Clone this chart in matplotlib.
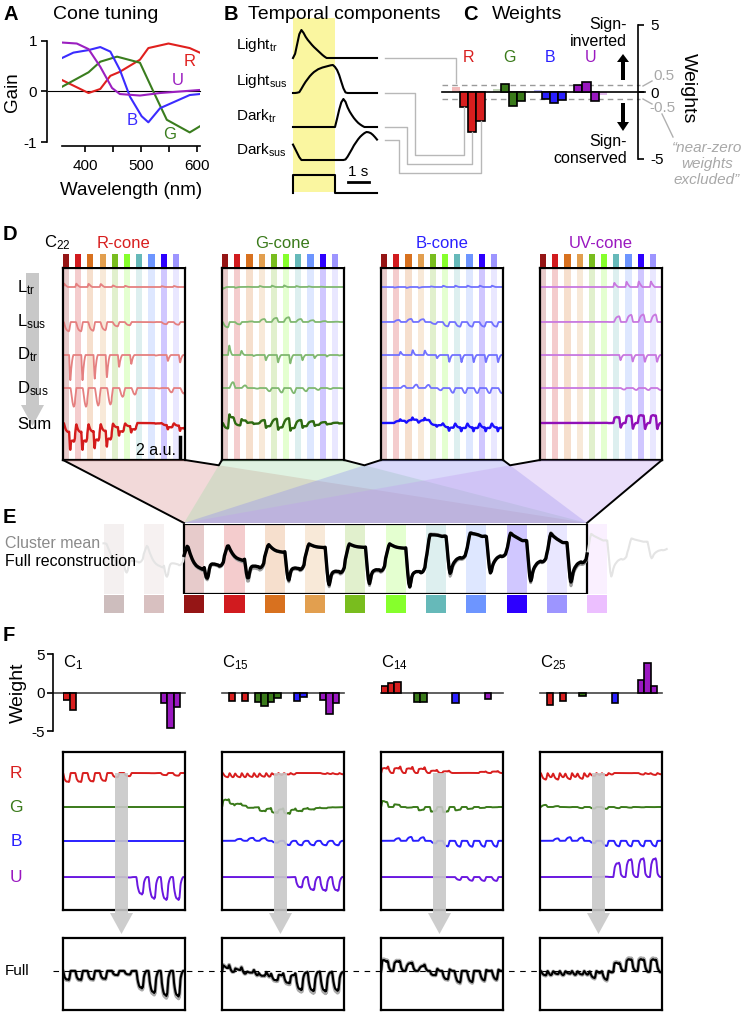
import numpy as np
import matplotlib.pyplot as plt
from matplotlib.patches import Rectangle, Polygon

plt.rcParams['font.family'] = ['Liberation Sans', 'DejaVu Sans']
plt.rcParams['mathtext.fontset'] = 'custom'
plt.rcParams['mathtext.rm'] = 'Liberation Sans'
plt.rcParams['mathtext.it'] = 'Liberation Sans:italic'
plt.rcParams['axes.unicode_minus'] = False

W, H = 744, 1013

# ---------------- data ----------------
# panel A: cone tuning curves (wavelength nm, gain)
wl_R = [358, 406, 427, 445, 462, 498, 513, 549, 587, 605]
tune_R = [0.23, -0.03, 0.05, 0.31, 0.39, 0.63, 0.86, 0.95, 0.86, 0.77]
wl_G = [358, 406, 427, 457, 498, 522, 546, 587, 605]
tune_G = [0.09, 0.38, 0.59, 0.69, 0.57, 0.0, -0.56, -0.81, -0.69]
wl_B = [358, 379, 406, 427, 445, 462, 480, 501, 513, 534, 587, 605]
tune_B = [0.66, 0.77, 0.82, 0.88, 0.79, 0.43, -0.10, -0.49, -0.61, -0.33, -0.07, -0.05]
wl_U = [358, 385, 406, 427, 448, 462, 498, 534, 605]
tune_U = [0.97, 0.95, 0.84, 0.49, 0.07, -0.05, -0.08, -0.03, 0.03]

# panel B: temporal kernels, sampled every 0.1 s over one 4 s cycle (flash 0-2 s)
k_time = np.arange(41) * 0.1
light_tr = [0, .15, .5, .85, 1.0, .9, .76, .65, .56, .47, .39, .32, .25, .18, .11, .05,
            0, 0, 0, 0, 0, 0, 0, 0, 0, 0, 0, 0, 0, 0, 0, 0, 0, 0, 0, 0, 0, 0, 0, 0, 0]
light_sus = [0, 0, .01, .03, .15, .28, .4, .5, .6, .68, .75, .8, .85, .88, .91, .93, .95,
             .97, .99, 1.0, .93, .82, .64, .4, .17, .02, 0, 0, 0, 0, 0, 0, 0, 0, 0, 0, 0,
             0, 0, 0, 0]
dark_tr = [0, 0, 0, 0, 0, 0, 0, 0, 0, 0, 0, 0, 0, 0, 0, 0, 0, 0, 0, 0, 0, .3, .62, .88,
           1.0, .9, .7, .55, .43, .32, .23, .15, .09, .04, 0, 0, 0, 0, 0, 0, 0]
dark_sus = [.55, .4, .25, .1, 0, 0, 0, 0, 0, 0, 0, 0, 0, 0, 0, 0, 0, 0, 0, 0, 0, 0, 0, 0,
            0, .02, .12, .25, .38, .52, .63, .74, .83, .9, .96, 1.0, .99, .96, .9, .82, .73]
stim_t = [0, 0, 2, 2, 4]
stim_v = [0, 1, 1, 0, 0]
kernels = [light_tr, light_sus, dark_tr, dark_sus]
kernel_tail = [0, 0, 0, 4]   # dark_sus start belongs to the previous flash

# LEDs (13 used in E; D uses index 2..11) + one trailing cycle
led_colors = ['#cdbdbd', '#d8c0c0', '#951515', '#d11b1f', '#d8711f', '#e29f4f', '#79bd1e',
              '#86ff2c', '#66b9b9', '#6d95ff', '#2d00ff', '#9d95ff', '#ecbfff']
led_R = [0.70, 0.80, 0.85, 0.85, 0.80, 0.75, 0.40, 0.30, 0.00, 0.02, 0.20, 0.25, 0.22, 0.10]
led_G = [-0.70, -0.80, -0.90, -0.40, 0.10, 0.50, 0.70, 0.80, 0.50, 0.30, 0.15, 0.05, 0.09, 0.0]
led_B = [0.0, 0.0, 0.0, -0.40, -0.60, -0.55, 0.40, 0.85, 0.90, 0.90, 0.90, 0.90, 0.66, 0.30]
led_U = [0.0, 0.0, 0.0, 0.0, 0.0, 0.0, 0.0, 0.02, 0.80, 1.00, 1.05, 1.05, 0.97, 0.50]
led_gain = [led_R, led_G, led_B, led_U]

# panel C: C22 weights (Ltr, Lsus, Dtr, Dsus) per cone
w22_R = [0.40, -1.10, -2.96, -2.20]
w22_G = [0.20, 0.60, -1.05, -0.65]
w22_B = [0.15, -0.52, -0.80, -0.57]
w22_U = [0.52, 0.72, -0.65, -0.20]
w22 = [w22_R, w22_G, w22_B, w22_U]
mean_ratio_E = [1.0, 1.0, 1.05, 1.1, 1.05, 1.05, 1.05, 1.0, 1.1, 0.95, 1.05, 1.1, 1.0, 1.0]

# panel F: cluster weights (cone x component)
clusters = ['C$_{1}$', 'C$_{15}$', 'C$_{14}$', 'C$_{25}$']
wF_C1 = [[-0.96, -2.26, 0, 0], [0, 0, 0, 0], [0, 0, 0, 0], [-1.4, -4.65, -1.9, 0]]
wF_C15 = [[0, -1.05, 0, -1.05], [-1.2, -1.7, -1.2, -0.75], [0, -1.05, -0.6, 0], [-0.95, -2.8, -1.4, 0]]
wF_C14 = [[0.9, 1.2, 1.3, 0], [-1.2, -1.2, 0, 0], [0, -1.4, 0, 0], [0, -0.8, 0, 0]]
wF_C25 = [[0, -1.65, 0, -1.05], [0, -0.5, 0, 0], [0, -1.3, 0, 0], [1.65, 3.8, 0.9, 0]]
wF = [wF_C1, wF_C15, wF_C14, wF_C25]
mean_ratio_F = [1.08, 1.1, 1.08, 1.1]

cone_names = ['R', 'G', 'B', 'U']
cone_col = ['#d81e1e', '#3a7a1a', '#2a20ff', '#9a18c0']
cone_light = ['#e58080', '#80b870', '#7272ff', '#c878e0']
cone_sum = ['#d41c1c', '#2f6a12', '#1a10ff', '#9010b8']
f_col = ['#d81e1e', '#3a7a1a', '#2a20ff', '#6a18e0']

CYCLE = 40
DT = 0.1


def component_trace(gains, kernel, tail):
    segs = []
    prev = 0.0
    for g in gains:
        seg = np.array(kernel[:CYCLE]) * g
        if tail:
            seg[:tail] = np.array(kernel[:tail]) * prev
        segs.append(seg)
        prev = g
    return np.concatenate(segs)


def cone_trace(weights, gains):
    out = 0
    for w, k, tl in zip(weights, kernels, kernel_tail):
        out = out + w * component_trace(gains, k, tl)
    return out


def included(ws):
    return [w if abs(w) >= 0.5 else 0.0 for w in ws]


fig = plt.figure(figsize=(W / 100, H / 100), dpi=100)


def px_axes(x0, y0, x1, y1):
    return fig.add_axes([x0 / W, 1 - y1 / H, (x1 - x0) / W, (y1 - y0) / H])


def clean(ax):
    ax.set_xticks([])
    ax.set_yticks([])
    for s in ax.spines.values():
        s.set_visible(False)


# ---------------- A: cone tuning ----------------
axA = px_axes(61.7, 41, 200, 142)
axA.axhline(0, color='black', lw=0.8, xmin=-0.1, clip_on=False)
for wl, tu, c in zip([wl_R, wl_G, wl_B, wl_U], [tune_R, tune_G, tune_B, tune_U],
                     ['#e0201e', '#3a7d1e', '#3b2cff', '#9b1fc0']):
    axA.plot(wl, tu, color=c, lw=1.5)
axA.set_xlim(358, 605.4)
axA.set_ylim(-1, 1)
axA.spines['top'].set_visible(False)
axA.spines['right'].set_visible(False)
axA.spines['left'].set_position(('outward', 10.6))
axA.spines['left'].set_bounds(-1, 1)
axA.spines['bottom'].set_position(('outward', 3))
axA.set_yticks([-1, 0, 1])
axA.set_xticks([400, 450, 500, 550, 600])
axA.set_xticklabels(['400', '', '500', '', '600'])
axA.tick_params(labelsize=11, length=4, width=1.2, pad=3)
axA.tick_params(axis='x', pad=5)
for s in axA.spines.values():
    s.set_linewidth(1.2)

# ---------------- B: temporal components ----------------
axB = px_axes(280, 18, 400, 196)
clean(axB)
axB.set_xlim(-13 / 21, 107 / 21)
axB.set_ylim(196, 18)
axB.axvspan(0, 2, ymin=0.02, ymax=1, color='#faf6a0', lw=0)
row_base = [58, 93, 127, 160]
for k, base in zip(kernels, row_base):
    axB.plot(k_time, base - np.array(k) * 28, color='black', lw=1.5)
axB.plot(stim_t, 193 - np.array(stim_v) * 18, color='black', lw=1.5)
axB.plot([2.6, 3.6], [182, 182], color='black', lw=2)
axB.text(3.1, 179, '1 s', ha='center', va='bottom', fontsize=11)

# ---------------- C: weights ----------------
C_X0, C_SLOT, C_ZERO, C_UNIT = 452, 8.15, 92, 13.4
axC = px_axes(440, 25, 638, 159)
axC.set_xlim((440 - C_X0) / C_SLOT, (638 - C_X0) / C_SLOT)
axC.set_ylim(-5, 5)
for s in ['top', 'left', 'bottom']:
    axC.spines[s].set_visible(False)
axC.spines['right'].set_bounds(-5, 5)
axC.spines['right'].set_linewidth(1.2)
axC.yaxis.tick_right()
axC.set_yticks([-5, 0, 5])
axC.set_xticks([])
axC.tick_params(labelsize=11, length=4, width=1.2, pad=5)
xa, xb = (442 - C_X0) / C_SLOT, (645 - C_X0) / C_SLOT
axC.plot([xa, (640 - C_X0) / C_SLOT], [0.5, 0.5], color='#9a9a9a', lw=1, dashes=(4, 3), clip_on=False)
axC.plot([xa, (640 - C_X0) / C_SLOT], [-0.5, -0.5], color='#9a9a9a', lw=1, dashes=(4, 3), clip_on=False)
for g, ws in enumerate(w22):
    for c, w in enumerate(ws):
        x = g * 5 + c
        if abs(w) < 0.5:
            axC.bar(x, w, width=1, align='edge', color=cone_col[g], alpha=0.3, lw=0)
        else:
            axC.bar(x, w, width=1, align='edge', color=cone_col[g], edgecolor='black', lw=1.2, zorder=3)
axC.plot([xa, xb], [0, 0], color='black', lw=1.2, clip_on=False, zorder=2)
for g, n in enumerate(cone_names):
    axC.text(g * 5 + 2, 2.0, n, ha='center', va='bottom', color=cone_col[g], fontsize=11.5)

# ---------------- D: cone contributions ----------------
box_left = [63, 222, 381, 540]
BOX_W = 122
d_base = [-1.9, -5.4, -8.7, -12.0, -15.5]
tD = np.arange(10 * CYCLE) * DT
for ci in range(4):
    L = box_left[ci]
    ax = px_axes(L, 268, L + BOX_W, 460)
    ax.set_xticks([])
    ax.set_yticks([])
    for s in ax.spines.values():
        s.set_linewidth(1.6)
    ax.set_xlim(0, 40)
    ax.set_ylim(-19.2, 0)
    gains = led_gain[ci][2:12]
    for i in range(10):
        ax.axvspan(4 * i, 4 * i + 2, color=led_colors[i + 2], alpha=0.22, lw=0)
    for k in range(4):
        comp = component_trace(gains, kernels[k], kernel_tail[k])
        ax.plot(tD, d_base[k] + w22[ci][k] * comp, color=cone_light[ci], lw=1.3)
    ax.plot(tD, d_base[4] + cone_trace(included(w22[ci]), gains), color=cone_sum[ci], lw=1.7)
    if ci == 0:
        ax.plot([38.4, 38.4], [-16.9, -18.9], color='black', lw=2.5)
        ax.text(37.2, -18.2, '2 a.u.', ha='right', va='center', fontsize=11.5)
    sq = px_axes(L, 254, L + BOX_W, 267)
    clean(sq)
    sq.set_xlim(0, 40)
    for i in range(10):
        sq.axvspan(4 * i, 4 * i + 2, color=led_colors[i + 2], lw=0)

# ---------------- E: full reconstruction ----------------
E_X0, E_PXS = 103.5, 40.3 / 4
axE = px_axes(90, 524, 680, 594)
clean(axE)
axE.set_xlim((90 - E_X0) / E_PXS, (680 - E_X0) / E_PXS)
tE = np.arange(14 * CYCLE) * DT
fullE = sum(cone_trace(included(w22[ci]), led_gain[ci]) for ci in range(4))
meanE = fullE * np.repeat(mean_ratio_E, CYCLE)
inside = (tE >= 8) & (tE <= 48)
lo, hi = fullE[inside].min(), fullE[inside].max()
sc = 54 / (hi - lo)
axE.set_ylim(lo - 7 / sc, hi + 9 / sc)
for i in range(13):
    axE.axvspan(4 * i, 4 * i + 2, color=led_colors[i], alpha=0.22, lw=0)
axE.plot(tE, meanE, color='#e4e4e4', lw=1.5)
axE.plot(tE[inside], meanE[inside], color='#9c9c9c', lw=2)
axE.plot(tE[inside], fullE[inside], color='black', lw=2.4)
axE.add_patch(Rectangle((8, lo - 7 / sc), 40, (hi - lo) + 16 / sc, fill=False, ec='black', lw=1.6))
sqE = px_axes(90, 595, 680, 613)
clean(sqE)
sqE.set_xlim(axE.get_xlim())
for i in range(13):
    sqE.axvspan(4 * i, 4 * i + 2, color=led_colors[i], lw=0)

# ---------------- F: example clusters ----------------
F_SLOT = 6.5
F_SC = 4.7
f_base = [-4.47, -11.7, -18.9, -26.6]
for j in range(4):
    L = box_left[j]
    axw = px_axes(L, 654, L + BOX_W, 731)
    axw.set_xlim(0, BOX_W / F_SLOT)
    axw.set_ylim(-5, 5)
    for s in ['top', 'right', 'bottom', 'left']:
        axw.spines[s].set_visible(False)
    axw.set_xticks([])
    x_start = 0
    if j == 0:
        axw.spines['left'].set_visible(True)
        axw.spines['left'].set_position(('outward', 7.2))
        axw.spines['left'].set_bounds(-5, 5)
        axw.spines['left'].set_linewidth(1.2)
        axw.set_yticks([-5, 0, 5])
        axw.tick_params(labelsize=11, length=4, width=1.2, pad=2)
        x_start = -10 / F_SLOT
    else:
        axw.set_yticks([])
    axw.plot([x_start, BOX_W / F_SLOT], [0, 0], color='#444444', lw=1.2, clip_on=False)
    for g in range(4):
        for c in range(4):
            w = wF[j][g][c]
            if w != 0:
                axw.bar(g * 5 + c, w, width=1, align='edge', color=cone_col[g],
                        edgecolor='black', lw=1.2, zorder=3)

    gains_all = [lg[2:12] for lg in led_gain]
    axu = px_axes(L, 752, L + BOX_W, 910)
    axu.set_xticks([])
    axu.set_yticks([])
    for s in axu.spines.values():
        s.set_linewidth(1.6)
    axu.set_xlim(0, 40)
    axu.set_ylim(-158 / F_SC, 0)
    total = 0
    for g in range(4):
        tr = cone_trace(wF[j][g], gains_all[g])
        total = total + tr
        axu.plot(tD, f_base[g] + tr, color=f_col[g], lw=1.4)

    axl = px_axes(L, 938, L + BOX_W, 1010)
    axl.set_xticks([])
    axl.set_yticks([])
    for s in axl.spines.values():
        s.set_linewidth(1.6)
    axl.set_xlim(0, 40)
    axl.set_ylim(-72 / F_SC, 0)
    axl.plot(tD, -7.0 + total * mean_ratio_F[j], color='#aaaaaa', lw=2.6)
    axl.plot(tD, -7.0 + total, color='black', lw=1.5)

# ---------------- overlay: labels, arrows, connectors ----------------
ov = fig.add_axes([0, 0, 1, 1], zorder=10)
ov.set_xlim(0, W)
ov.set_ylim(H, 0)
ov.axis('off')
ov.patch.set_alpha(0)

bold = dict(fontsize=14.5, fontweight='bold', va='center', ha='left')
for lab, x, y in [('A', 3, 14), ('B', 224, 14), ('C', 463, 14), ('D', 3, 234), ('E', 3, 517), ('F', 3, 635)]:
    ov.text(x, y, lab, **bold)
ov.text(53, 14, 'Cone tuning', fontsize=14, va='center')
ov.text(248, 14, 'Temporal components', fontsize=14, va='center')
ov.text(492, 14, 'Weights', fontsize=14, va='center')

# A labels
ov.text(12, 92, 'Gain', rotation=90, fontsize=13.5, ha='center', va='center')
ov.text(131, 190, 'Wavelength (nm)', fontsize=13.5, ha='center', va='center')
for n, x, y, c in [('R', 190, 61, '#e0201e'), ('U', 178, 80, '#9b1fc0'),
                   ('B', 132, 120, '#3b2cff'), ('G', 170, 134, '#3a7d1e')]:
    ov.text(x, y, n, color=c, fontsize=12, ha='center', va='center')

# B labels
for lab, y in [(r'Light$_{\mathrm{tr}}$', 45), (r'Light$_{\mathrm{sus}}$', 81),
               (r'Dark$_{\mathrm{tr}}$', 116), (r'Dark$_{\mathrm{sus}}$', 150)]:
    ov.text(236, y, lab, fontsize=11, va='center', ha='left')

# connectors B -> C
gray_c = '#b8b8b8'
ends = [58 - light_tr[-1] * 28, 93 - light_sus[-1] * 28, 127 - dark_tr[-1] * 28, 160 - dark_sus[-1] * 28]
bar_x = [C_X0 + (c + 0.5) * C_SLOT for c in range(4)]
bar_end = [C_ZERO - w22_R[0] * C_UNIT - 4] + [C_ZERO - w * C_UNIT for w in w22_R[1:]]
ov.plot([385, bar_x[0], bar_x[0]], [ends[0], ends[0], bar_end[0]], color=gray_c, lw=1)
for c, (xt, yl) in zip([1, 2, 3], [(415, 155), (407, 164), (399, 173)]):
    ov.plot([385, xt, xt, bar_x[c], bar_x[c]], [ends[c], ends[c], yl, yl, bar_end[c]], color=gray_c, lw=1)

# C annotations
for ys, ye, yh in [(80, 62, 54), (103, 122, 131)]:
    ov.add_patch(Polygon([(621, ys), (625, ys), (625, ye), (629, ye), (623, yh), (617, ye), (621, ye)],
                         closed=True, color='black', lw=0))
ov.text(627, 33, 'Sign-\ninverted', ha='right', va='center', fontsize=11.5, multialignment='right', linespacing=1.1)
ov.text(627, 150, 'Sign-\nconserved', ha='right', va='center', fontsize=11.5, multialignment='right', linespacing=1.1)
ov.text(688, 88, 'Weights', rotation=270, fontsize=14, ha='center', va='center')
ov.text(653, 76, '0.5', color='#a8a8a8', fontsize=11, va='center')
ov.text(649, 108, '-0.5', color='#a8a8a8', fontsize=11, va='center')
ov.plot([643, 652], [86, 81], color='#b0b0b0', lw=1)
ov.plot([643, 652], [99, 104], color='#b0b0b0', lw=1)
ov.plot([662, 673], [114, 137], color='#b0b0b0', lw=1)
ov.text(707, 164, '\u201cnear-zero\nweights\nexcluded\u201d', color='#a8a8a8', fontsize=11,
        style='italic', ha='center', va='center', linespacing=1.15)

# D labels and arrow
ov.add_patch(Polygon([(26, 273), (39, 273), (39, 405), (44, 405), (32.5, 426), (21, 405), (26, 405)],
                     closed=True, color='#c8c8c8', lw=0, zorder=1))
for lab, y in [(r'L$_{\mathrm{tr}}$', 288), (r'L$_{\mathrm{sus}}$', 322), (r'D$_{\mathrm{tr}}$', 355),
               (r'D$_{\mathrm{sus}}$', 389), ('Sum', 424)]:
    ov.text(17, y, lab, fontsize=12, va='center', ha='left', zorder=3)
ov.text(44, 243, r'C$_{22}$', fontsize=12, va='center', ha='left')
for L, n, c in zip(box_left, ['R-cone', 'G-cone', 'B-cone', 'UV-cone'], cone_col):
    ov.text(L + 61, 243, n, color=c, fontsize=12, ha='center', va='center')

# funnel D -> E
fun_col = ['#d98c8c', '#9ed9a6', '#8c8cf0', '#c09cf0']
EL, ER, ET, DB = 184, 587, 523, 460
for L, c in zip(box_left, fun_col):
    ov.add_patch(Polygon([(L, DB), (L + BOX_W, DB), (ER, ET), (EL, ET)], closed=True,
                         color=c, alpha=0.33, lw=0))


def cross(p1, p2, p3, p4):
    d1 = np.subtract(p2, p1)
    d2 = np.subtract(p4, p3)
    m = np.array([d1, -d2]).T
    s = np.linalg.solve(m, np.subtract(p3, p1))
    return np.add(p1, s[0] * d1)


ov.plot([box_left[0], EL], [DB, ET], color='black', lw=1.4)
ov.plot([box_left[3] + BOX_W, ER], [DB, ET], color='black', lw=1.4)
for k in range(3):
    a = (box_left[k] + BOX_W, DB)
    b = (box_left[k + 1], DB)
    x = cross(a, (ER, ET), b, (EL, ET))
    ov.plot([a[0], x[0], b[0]], [a[1], x[1], b[1]], color='black', lw=1.4)

# E labels
ov.text(5, 543, 'Cluster mean', color='#8a8a8a', fontsize=11.5, va='center')
ov.text(5, 561, 'Full reconstruction', color='black', fontsize=11.5, va='center')

# F labels and arrows
ov.text(18, 693, 'Weight', rotation=90, fontsize=14, ha='center', va='center')
for L, n in zip(box_left, clusters):
    ov.text(L, 663, n, fontsize=12, va='center', ha='left')
for n, y, c in zip(cone_names, [773, 807, 841, 877], cone_col):
    ov.text(16, y, n, color=c, fontsize=12.5, ha='center', va='center')
ov.text(5, 971, 'Full', fontsize=11, va='center')
ov.plot([53, 662], [971, 971], color='black', lw=0.8, dashes=(5, 5))
for L in box_left:
    cx = L + 58.5
    ov.add_patch(Polygon([(cx - 6.5, 773), (cx + 6.5, 773), (cx + 6.5, 913), (cx + 11.5, 913),
                          (cx, 934), (cx - 11.5, 913), (cx - 6.5, 913)],
                         closed=True, color='#c8c8c8', alpha=0.9, lw=0))

fig.savefig('out.png', dpi=100)
